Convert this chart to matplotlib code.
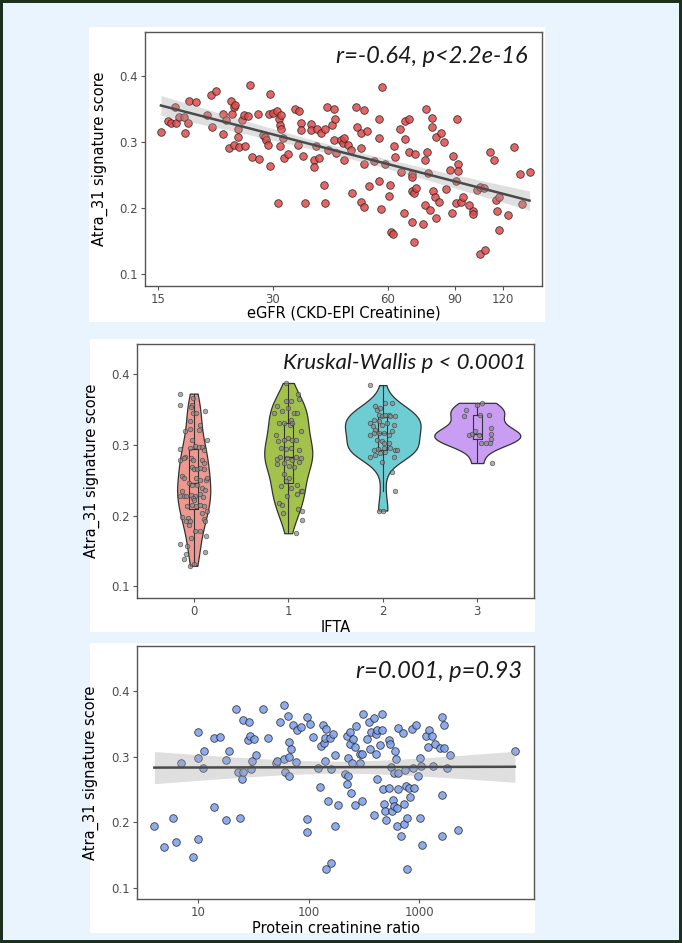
import numpy as np
import matplotlib
matplotlib.use('Agg')
import matplotlib.pyplot as plt
from matplotlib.patches import Rectangle

# ---- data ----

# panel 1: eGFR vs signature score
egfr = [15.3, 16.0, 16.3, 16.7, 16.8, 17.1, 17.6, 17.7, 18.0, 18.1, 18.9, 20.2, 20.8, 20.7, 21.3, 22.2, 22.2,
        22.6, 23.1, 23.4, 23.5, 23.7, 23.9, 23.8, 24.4, 24.4, 24.5, 24.9, 25.2, 25.4, 25.8, 26.1, 26.5, 27.5,
        27.6, 28.3, 28.6, 28.9, 29.2, 29.4, 29.5, 29.5, 30.1, 30.7, 31.0, 31.1, 31.3, 31.4, 31.5, 31.6, 31.9,
        32.1, 32.9, 34.3, 35.1, 34.9, 35.6, 35.6, 36.1, 36.5, 37.8, 37.8, 38.4, 38.9, 38.5, 39.3, 39.7, 40.1,
        40.9, 41.2, 41.1, 41.5, 41.8, 42.8, 43.4, 43.4, 43.6, 44.0, 45.3, 45.8, 46.0, 46.0, 47.3, 48.0, 48.5,
        49.5, 50.0, 51.2, 51.2, 52.0, 51.2, 52.0, 52.0, 53.0, 53.7, 55.1, 57.0, 57.0, 57.0, 57.6, 57.8, 59.0,
        60.7, 60.4, 61.3, 62.0, 62.4, 62.8, 64.5, 65.1, 66.0, 66.6, 66.6, 68.1, 68.1, 69.3, 69.3, 69.6, 69.6,
        70.1, 70.4, 70.6, 71.2, 74.0, 75.3, 75.6, 75.3, 75.9, 76.4, 77.2, 78.5, 78.5, 78.8, 79.6, 80.2, 80.2,
        81.9, 82.6, 84.3, 85.4, 87.2, 88.5, 89.1, 90.4, 90.4, 91.0, 91.7, 91.7, 93.2, 94.7, 98.1, 100.1, 100.1,
        102.7, 104.8, 104.8, 108.1, 107.4, 111.3, 114.1, 115.3, 115.7, 117.2, 117.2, 123.8, 128.5, 133.1,
        134.5, 141.0]
egfr_score = [0.315, 0.332, 0.329, 0.352, 0.329, 0.337, 0.338, 0.313, 0.328, 0.361, 0.360, 0.340, 0.323, 0.371,
              0.377, 0.342, 0.312, 0.333, 0.290, 0.361, 0.342, 0.352, 0.356, 0.295, 0.308, 0.320, 0.292, 0.333,
              0.340, 0.293, 0.339, 0.386, 0.277, 0.342, 0.274, 0.310, 0.307, 0.303, 0.295, 0.342, 0.372, 0.263,
              0.344, 0.347, 0.207, 0.335, 0.294, 0.325, 0.340, 0.319, 0.305, 0.275, 0.281, 0.349, 0.347, 0.295,
              0.328, 0.318, 0.278, 0.207, 0.327, 0.318, 0.273, 0.293, 0.262, 0.320, 0.276, 0.313, 0.235, 0.319,
              0.207, 0.353, 0.288, 0.326, 0.349, 0.303, 0.335, 0.283, 0.303, 0.298, 0.305, 0.272, 0.295, 0.287,
              0.223, 0.352, 0.323, 0.313, 0.290, 0.348, 0.209, 0.266, 0.201, 0.317, 0.233, 0.271, 0.334, 0.305,
              0.241, 0.198, 0.383, 0.266, 0.235, 0.218, 0.163, 0.160, 0.293, 0.277, 0.319, 0.255, 0.193, 0.304,
              0.332, 0.334, 0.284, 0.252, 0.226, 0.247, 0.179, 0.222, 0.149, 0.281, 0.230, 0.176, 0.204, 0.349,
              0.272, 0.284, 0.253, 0.197, 0.336, 0.322, 0.226, 0.217, 0.185, 0.307, 0.209, 0.313, 0.299, 0.228,
              0.258, 0.193, 0.278, 0.241, 0.207, 0.335, 0.266, 0.256, 0.209, 0.217, 0.205, 0.196, 0.191, 0.227,
              0.130, 0.232, 0.137, 0.230, 0.285, 0.273, 0.212, 0.195, 0.216, 0.166, 0.189, 0.292, 0.252, 0.206,
              0.255]
egfr_ticks = [15, 30, 60, 90, 120]

# panel 2: IFTA groups, score and horizontal jitter of each dot
ifta_levels = ['0', '1', '2', '3']
ifta0_score = [0.372, 0.356, 0.366, 0.356, 0.353, 0.345, 0.344, 0.348, 0.333, 0.328, 0.321, 0.319, 0.322, 0.307,
               0.306, 0.294, 0.283, 0.279, 0.281, 0.295, 0.298, 0.297, 0.297, 0.293, 0.281, 0.278, 0.279, 0.274,
               0.269, 0.265, 0.265, 0.267, 0.265, 0.256, 0.253, 0.253, 0.250, 0.250, 0.253, 0.246, 0.243, 0.243,
               0.239, 0.236, 0.234, 0.228, 0.228, 0.228, 0.229, 0.227, 0.225, 0.222, 0.231, 0.226, 0.213, 0.215,
               0.213, 0.215, 0.213, 0.206, 0.203, 0.198, 0.196, 0.192, 0.192, 0.187, 0.195, 0.192, 0.178, 0.178,
               0.168, 0.171, 0.160, 0.157, 0.148, 0.145, 0.138, 0.129, 0.131]
ifta0_jit = [-0.141, -0.148, -0.007, -0.018, -0.025, -0.007, 0.028, 0.124, -0.035, 0.064, 0.053, -0.088, -0.042,
             -0.018, 0.141, -0.141, -0.088, -0.141, -0.106, -0.035, 0.018, 0.053, 0.088, 0.106, -0.028, -0.007,
             0.088, 0.113, -0.018, 0.007, 0.035, 0.071, 0.106, -0.124, -0.106, 0.028, 0.071, 0.134, 0.141, -0.053,
             -0.018, 0.035, 0.088, 0.124, -0.124, -0.141, -0.106, -0.078, -0.028, 0.018, -0.007, 0.007, 0.071,
             0.099, -0.071, -0.018, 0.028, 0.064, 0.106, 0.141, 0.088, -0.124, -0.064, -0.078, -0.035, -0.053,
             0.106, 0.124, 0.018, 0.071, -0.025, 0.134, -0.141, -0.071, 0.124, -0.078, -0.099, -0.035, 0.000]
ifta1_score = [0.387, 0.372, 0.364, 0.354, 0.345, 0.361, 0.361, 0.352, 0.345, 0.345, 0.347, 0.330, 0.331, 0.335,
               0.328, 0.330, 0.319, 0.314, 0.305, 0.307, 0.309, 0.307, 0.307, 0.295, 0.294, 0.295, 0.293, 0.282,
               0.280, 0.282, 0.281, 0.279, 0.274, 0.272, 0.270, 0.269, 0.281, 0.275, 0.258, 0.253, 0.248, 0.243,
               0.242, 0.239, 0.231, 0.234, 0.234, 0.227, 0.217, 0.215, 0.203, 0.209, 0.206, 0.194, 0.175]
ifta1_jit = [-0.028, 0.102, 0.113, -0.124, -0.152, -0.028, 0.025, -0.004, 0.060, 0.095, -0.064, -0.099, -0.046,
             0.025, 0.018, 0.042, 0.131, -0.134, -0.110, -0.046, -0.004, 0.042, 0.078, -0.081, -0.028, 0.025,
             0.113, 0.078, -0.124, -0.088, -0.011, 0.042, -0.046, -0.117, 0.007, 0.060, 0.131, 0.113, -0.046,
             0.007, -0.028, 0.095, -0.074, 0.032, 0.088, 0.131, 0.148, -0.018, -0.099, -0.064, -0.053, 0.106,
             0.148, 0.141, 0.078]
ifta2_score = [0.384, 0.354, 0.349, 0.352, 0.359, 0.359, 0.335, 0.342, 0.340, 0.342, 0.342, 0.340, 0.340, 0.330,
               0.326, 0.321, 0.333, 0.328, 0.330, 0.328, 0.314, 0.316, 0.316, 0.316, 0.314, 0.319, 0.307, 0.305,
               0.302, 0.302, 0.293, 0.294, 0.295, 0.295, 0.293, 0.293, 0.283, 0.286, 0.288, 0.290, 0.283, 0.276,
               0.262, 0.234, 0.207, 0.207]
ifta2_jit = [-0.131, -0.078, -0.060, -0.025, 0.028, 0.099, -0.095, -0.042, -0.007, 0.028, 0.064, 0.081, 0.134,
             -0.131, -0.102, -0.078, -0.042, -0.007, 0.046, 0.117, -0.131, -0.095, -0.042, 0.011, 0.064, 0.099,
             -0.060, -0.007, 0.018, 0.064, -0.095, -0.049, 0.011, 0.081, 0.134, 0.152, -0.131, -0.078, -0.025,
             0.028, 0.117, -0.007, 0.099, 0.134, -0.042, 0.004]
ifta3_score = [0.349, 0.341, 0.356, 0.359, 0.342, 0.342, 0.314, 0.315, 0.314, 0.302, 0.302, 0.323, 0.315, 0.308,
               0.302, 0.274, 0.319]
ifta3_jit = [-0.124, -0.141, 0.000, 0.053, 0.028, 0.124, -0.088, -0.053, 0.018, 0.035, 0.088, 0.141, 0.148,
             0.141, 0.134, 0.159, -0.025]
ifta_colors = ['#EE9891', '#A2C24B', '#6ECDD3', '#C99DF2']
# widest half-width of each violin (as drawn in the original)
violin_half = [0.175, 0.254, 0.40, 0.455]

# panel 3: protein creatinine ratio vs signature score
pcr = [4.03, 4.98, 5.98, 6.3, 7.0, 9.0, 10.0, 10.0, 10.0, 11.1, 11.4, 13.9, 14.0, 15.9, 17.9, 17.9, 18.9, 21.9,
       22.8, 23.9, 25.0, 25.3, 25.8, 28.1, 28.9, 29.3, 29.9, 31.0, 31.8, 33.7, 38.6, 42.9, 51.0, 51.8, 54.8, 59.5,
       60.5, 60.8, 65.1, 66.0, 66.0, 66.0, 69.8, 71.7, 76.6, 79.2, 85.9, 96.6, 96.6, 96.6, 103.5, 108.8, 121.4,
       125.9, 129.5, 134.4, 137.4, 140.6, 144.7, 140.6, 142.6, 149.8, 156.8, 159.0, 159.0, 166.1, 174.9, 174.9,
       186.6, 212.0, 222.6, 222.6, 225.7, 225.7, 235.6, 239.2, 242.5, 248.3, 252.5, 260.6, 260.6, 269.7, 289.4,
       294.9, 304.8, 301.6, 311.4, 336.9, 354.0, 357.4, 363.5, 390.3, 390.3, 405.2, 408.2, 415.4, 415.4, 444,
       459, 459, 470, 477, 494, 505, 529, 529, 548, 556, 567, 580, 588, 588, 607, 617, 627, 641, 636, 641, 650,
       685, 713, 725, 725, 750, 766, 775, 784, 815, 827, 870, 888, 897, 932, 983, 1018, 1018, 1040, 1056, 1153,
       1202, 1228, 1314, 1322, 1393, 1530, 1608, 1608, 1608, 1690, 1690, 1778, 1889, 2269, 7350]
pcr_score = [0.195, 0.162, 0.207, 0.171, 0.290, 0.148, 0.338, 0.298, 0.175, 0.283, 0.309, 0.328, 0.224, 0.330,
             0.204, 0.295, 0.309, 0.372, 0.277, 0.206, 0.266, 0.276, 0.356, 0.325, 0.353, 0.331, 0.281, 0.294,
             0.327, 0.302, 0.372, 0.328, 0.291, 0.294, 0.353, 0.378, 0.297, 0.277, 0.361, 0.322, 0.299, 0.271,
             0.312, 0.348, 0.292, 0.341, 0.345, 0.360, 0.205, 0.185, 0.350, 0.330, 0.282, 0.254, 0.316, 0.348,
             0.320, 0.293, 0.342, 0.329, 0.130, 0.233, 0.329, 0.281, 0.138, 0.334, 0.302, 0.195, 0.226, 0.274,
             0.332, 0.259, 0.298, 0.271, 0.337, 0.319, 0.245, 0.290, 0.326, 0.226, 0.315, 0.347, 0.304, 0.291,
             0.304, 0.233, 0.364, 0.326, 0.353, 0.311, 0.337, 0.358, 0.212, 0.335, 0.304, 0.266, 0.340, 0.317,
             0.340, 0.365, 0.251, 0.228, 0.218, 0.203, 0.325, 0.253, 0.319, 0.284, 0.217, 0.234, 0.225, 0.275,
             0.308, 0.296, 0.222, 0.343, 0.195, 0.275, 0.251, 0.179, 0.336, 0.228, 0.197, 0.279, 0.256, 0.206,
             0.130, 0.253, 0.239, 0.342, 0.282, 0.253, 0.348, 0.271, 0.298, 0.206, 0.285, 0.165, 0.331, 0.314,
             0.341, 0.332, 0.285, 0.319, 0.313, 0.360, 0.241, 0.179, 0.313, 0.348, 0.283, 0.302, 0.189, 0.308]
pcr_ticks = [10, 100, 1000]

score_ticks = [0.1, 0.2, 0.3, 0.4]
ylab = 'Atra_31 signature score'

W, H = 682, 943


def px_rect(x0, y0, x1, y1):
    # pixel box (top-left origin) -> figure fraction [left, bottom, width, height]
    return [x0 / W, 1 - y1 / H, (x1 - x0) / W, (y1 - y0) / H]


def style_axes(ax):
    for s in ax.spines.values():
        s.set_color('#555555')
        s.set_linewidth(1.0)
    ax.tick_params(axis='both', which='both', colors='#555555', labelcolor='#4d4d4d',
                   labelsize=8.5, length=3, width=0.8, pad=2)
    ax.set_yticks(score_ticks)
    ax.set_yticklabels([f'{t:.1f}' for t in score_ticks])


# linear fit on log10(x) with 95% band, like geom_smooth(method = 'lm')
def add_lm(ax, x, y):
    lx = np.log10(np.asarray(x))
    y = np.asarray(y)
    b, a = np.polyfit(lx, y, 1)
    grid = np.linspace(lx.min(), lx.max(), 100)
    fit = a + b * grid
    n = len(lx)
    s = np.sqrt(np.sum((y - (a + b * lx)) ** 2) / (n - 2))
    se = s * np.sqrt(1 / n + (grid - lx.mean()) ** 2 / np.sum((lx - lx.mean()) ** 2))
    ax.fill_between(10 ** grid, fit - 1.975 * se, fit + 1.975 * se, color='#a6a6a6', alpha=0.35, lw=0, zorder=3)
    ax.plot(10 ** grid, fit, color='#4a4a4a', lw=1.8, zorder=4)


def kde(vals, grid):
    vals = np.asarray(vals)
    n = len(vals)
    iqr = np.percentile(vals, 75) - np.percentile(vals, 25)
    bw = 0.9 * min(vals.std(ddof=1), iqr / 1.34) * n ** -0.2
    d = np.exp(-0.5 * ((grid[:, None] - vals[None, :]) / bw) ** 2).sum(axis=1)
    return d / (n * bw * np.sqrt(2 * np.pi))


fig = plt.figure(figsize=(W / 100, H / 100), dpi=100)
fig.patch.set_facecolor('#EAF4FE')

# white panels behind each plot
for box in [(89, 27, 545, 322), (90, 339, 535, 632), (90, 643, 535, 933)]:
    l, b, w, h = px_rect(*box)
    fig.add_artist(Rectangle((l, b), w, h, transform=fig.transFigure, facecolor='white',
                             edgecolor='none', zorder=-1))

# dark frame around the whole figure
fig.add_artist(Rectangle((0, 0), 1, 1, transform=fig.transFigure, fill=False,
                         edgecolor='#1C2E1C', linewidth=4.3, zorder=10))

italic = dict(family=['Lato', 'DejaVu Sans'], style='italic', color='#1a1a1a')

### Panel 1: eGFR
ax1 = fig.add_axes(px_rect(145, 32, 542, 286))
ax1.scatter(egfr, egfr_score, s=30, facecolor='#E04A4A', edgecolor='#222222', linewidth=0.6,
            alpha=0.85, zorder=2)
add_lm(ax1, egfr, egfr_score)
ax1.set_xscale('log')
ax1.set_xlim(13.9, 152)
ax1.set_ylim(0.082, 0.466)
ax1.minorticks_off()
ax1.set_xticks(egfr_ticks)
ax1.set_xticklabels([str(t) for t in egfr_ticks])
style_axes(ax1)
ax1.set_xlabel('eGFR (CKD-EPI Creatinine)', fontsize=10.5)
ax1.set_ylabel(ylab, fontsize=10.5)
ax1.xaxis.set_label_coords(0.5, -0.075)
ax1.yaxis.set_label_coords(-0.093, 0.5)
ax1.text(0.965, 0.879, 'r=-0.64, p<2.2e-16', transform=ax1.transAxes, ha='right', va='baseline',
         fontsize=17, **italic)

### Panel 2: IFTA violins
ax2 = fig.add_axes(px_rect(137, 344, 534, 598))
groups = [ifta0_score, ifta1_score, ifta2_score, ifta3_score]
jits = [ifta0_jit, ifta1_jit, ifta2_jit, ifta3_jit]
for i, g in enumerate(groups):
    gr = np.linspace(min(g), max(g), 256)
    d = kde(g, gr)
    half = d / d.max() * violin_half[i]
    ax2.fill_betweenx(gr, i - half, i + half, facecolor=ifta_colors[i], edgecolor='#333333',
                      linewidth=0.9, zorder=2)
ax2.boxplot(groups, positions=range(4), widths=0.1, showfliers=False, showcaps=False,
            whis=1.5, manage_ticks=False, zorder=3,
            boxprops=dict(color='#333333', linewidth=0.8),
            whiskerprops=dict(color='#333333', linewidth=0.8),
            medianprops=dict(color='#333333', linewidth=1.0))
for i, (g, j) in enumerate(zip(groups, jits)):
    ax2.scatter(i + np.asarray(j), g, s=11, facecolor='#8a8a8a', edgecolor='#333333',
                linewidth=0.5, alpha=0.7, zorder=4)
ax2.set_xlim(-0.6, 3.6)
ax2.set_ylim(0.0836, 0.442)
ax2.set_xticks(range(4))
ax2.set_xticklabels(ifta_levels)
style_axes(ax2)
ax2.set_xlabel('IFTA', fontsize=10.5)
ax2.set_ylabel(ylab, fontsize=10.5)
ax2.xaxis.set_label_coords(0.5, -0.085)
ax2.yaxis.set_label_coords(-0.093, 0.5)
ax2.text(0.980, 0.902, 'Kruskal-Wallis p < 0.0001', transform=ax2.transAxes, ha='right', va='baseline',
         fontsize=16, **italic)

### Panel 3: protein creatinine ratio
ax3 = fig.add_axes(px_rect(137, 646, 534, 899))
ax3.scatter(pcr, pcr_score, s=30, facecolor='#7A9EEA', edgecolor='#222222', linewidth=0.6,
            alpha=0.85, zorder=2)
add_lm(ax3, pcr, pcr_score)
ax3.set_xscale('log')
ax3.set_xlim(2.81, 10940)
ax3.set_ylim(0.0837, 0.468)
ax3.minorticks_off()
ax3.set_xticks(pcr_ticks)
ax3.set_xticklabels([str(t) for t in pcr_ticks])
style_axes(ax3)
ax3.set_xlabel('Protein creatinine ratio', fontsize=10.5)
ax3.set_ylabel(ylab, fontsize=10.5)
ax3.xaxis.set_label_coords(0.5, -0.085)
ax3.yaxis.set_label_coords(-0.096, 0.5)
ax3.text(0.969, 0.875, 'r=0.001, p=0.93', transform=ax3.transAxes, ha='right', va='baseline',
         fontsize=17, **italic)

fig.savefig('out.png', dpi=100, facecolor=fig.get_facecolor())
